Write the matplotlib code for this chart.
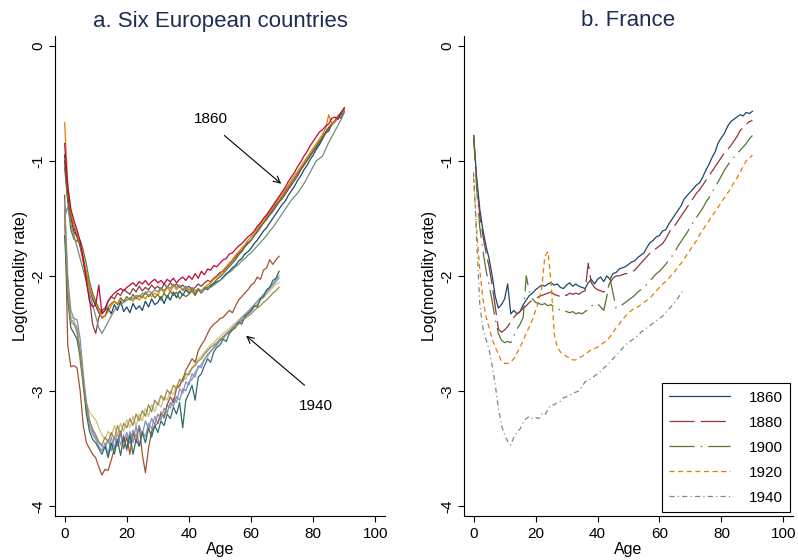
import matplotlib
matplotlib.use('Agg')
import matplotlib.pyplot as plt

plt.rcParams['font.family'] = ['Liberation Sans', 'DejaVu Sans']
plt.rcParams['lines.scale_dashes'] = False

# ---- data: log10 mortality by single year of age ----
ages_1860 = list(range(0, 91))
ages_1940 = list(range(0, 70))
ages_fr = list(range(0, 91))
ages_fr_1940 = list(range(0, 69))

eu1860_c1 = [-0.95, -1.30, -1.48, -1.58, -1.66, -1.74, -1.86, -1.98, -2.10, -2.20,
             -2.26, -2.32, -2.36, -2.35, -2.28, -2.33, -2.25, -2.30, -2.22, -2.31,
             -2.27, -2.32, -2.24, -2.29, -2.26, -2.30, -2.22, -2.27, -2.20, -2.25,
             -2.23, -2.18, -2.24, -2.17, -2.21, -2.14, -2.19, -2.13, -2.17, -2.12,
             -2.15, -2.11, -2.16, -2.12, -2.14, -2.10, -2.12, -2.09, -2.07, -2.05,
             -2.04, -2.01, -1.98, -1.96, -1.93, -1.91, -1.87, -1.85, -1.81, -1.79,
             -1.76, -1.72, -1.69, -1.65, -1.61, -1.58, -1.54, -1.50, -1.46, -1.42,
             -1.38, -1.35, -1.30, -1.26, -1.22, -1.17, -1.13, -1.08, -1.04, -0.99,
             -0.95, -0.90, -0.86, -0.81, -0.76, -0.74, -0.68, -0.66, -0.61, -0.63,
             -0.57]
eu1860_c2 = [-1.00, -1.34, -1.50, -1.62, -1.66, -1.74, -1.88, -2.02, -2.20, -2.42,
             -2.50, -2.36, -2.30, -2.28, -2.22, -2.18, -2.20, -2.15, -2.17, -2.12,
             -2.14, -2.16, -2.11, -2.14, -2.09, -2.13, -2.10, -2.12, -2.08, -2.11,
             -2.09, -2.12, -2.07, -2.10, -2.06, -2.09, -2.07, -2.10, -2.08, -2.11,
             -2.09, -2.12, -2.10, -2.07, -2.09, -2.06, -2.04, -2.05, -2.02, -2.00,
             -1.97, -1.96, -1.93, -1.90, -1.87, -1.84, -1.80, -1.78, -1.74, -1.71,
             -1.69, -1.65, -1.62, -1.58, -1.54, -1.51, -1.47, -1.44, -1.40, -1.36,
             -1.33, -1.29, -1.25, -1.21, -1.17, -1.13, -1.08, -1.04, -1.00, -0.96,
             -0.92, -0.88, -0.84, -0.79, -0.75, -0.71, -0.68, -0.65, -0.61, -0.58,
             -0.55]
eu1860_c3 = [-1.06, -1.35, -1.60, -1.68, -1.70, -1.69, -1.78, -1.90, -2.05, -2.15,
             -2.22, -2.28, -2.32, -2.30, -2.27, -2.24, -2.22, -2.25, -2.19, -2.22,
             -2.18, -2.21, -2.16, -2.20, -2.17, -2.19, -2.14, -2.18, -2.15, -2.19,
             -2.16, -2.21, -2.15, -2.19, -2.13, -2.17, -2.14, -2.20, -2.16, -2.18,
             -2.16, -2.13, -2.17, -2.12, -2.15, -2.11, -2.10, -2.08, -2.06, -2.03,
             -2.01, -1.98, -1.95, -1.92, -1.89, -1.86, -1.82, -1.79, -1.75, -1.72,
             -1.69, -1.65, -1.61, -1.57, -1.54, -1.50, -1.46, -1.42, -1.38, -1.35,
             -1.31, -1.27, -1.23, -1.19, -1.15, -1.11, -1.07, -1.03, -0.99, -0.95,
             -0.91, -0.87, -0.83, -0.80, -0.76, -0.72, -0.69, -0.66, -0.63, -0.60,
             -0.57]
eu1860_c4 = [-0.67, -1.20, -1.45, -1.56, -1.63, -1.72, -1.85, -1.97, -2.10, -2.18,
             -2.24, -2.30, -2.37, -2.35, -2.31, -2.26, -2.22, -2.24, -2.20, -2.23,
             -2.21, -2.19, -2.22, -2.18, -2.21, -2.17, -2.20, -2.16, -2.18, -2.15,
             -2.17, -2.11, -2.15, -2.10, -2.14, -2.08, -2.12, -2.09, -2.13, -2.10,
             -2.14, -2.12, -2.15, -2.11, -2.13, -2.10, -2.08, -2.06, -2.03, -2.01,
             -1.99, -1.95, -1.92, -1.89, -1.86, -1.82, -1.79, -1.76, -1.73, -1.69,
             -1.66, -1.63, -1.59, -1.55, -1.52, -1.48, -1.44, -1.40, -1.36, -1.33,
             -1.29, -1.25, -1.21, -1.17, -1.13, -1.09, -1.05, -1.01, -0.97, -0.93,
             -0.89, -0.85, -0.81, -0.77, -0.72, -0.60, -0.68, -0.66, -0.62, -0.59,
             -0.54]
eu1860_c5 = [-1.49, -1.40, -1.55, -1.65, -1.75, -1.85, -1.95, -2.05, -2.15, -2.25,
             -2.35, -2.45, -2.50, -2.45, -2.40, -2.35, -2.30, -2.27, -2.25, -2.23,
             -2.21, -2.19, -2.20, -2.17, -2.18, -2.15, -2.16, -2.13, -2.15, -2.12,
             -2.14, -2.10, -2.13, -2.09, -2.11, -2.07, -2.10, -2.08, -2.12, -2.09,
             -2.12, -2.10, -2.13, -2.11, -2.14, -2.12, -2.11, -2.10, -2.08, -2.06,
             -2.04, -2.02, -1.99, -1.97, -1.95, -1.92, -1.90, -1.87, -1.85, -1.82,
             -1.80, -1.77, -1.74, -1.71, -1.68, -1.65, -1.61, -1.58, -1.54, -1.50,
             -1.46, -1.42, -1.38, -1.34, -1.31, -1.28, -1.24, -1.20, -1.15, -1.10,
             -1.05, -1.00, -0.98, -0.96, -0.90, -0.84, -0.79, -0.74, -0.69, -0.64,
             -0.58]
eu1860_c6 = [-0.85, -1.22, -1.42, -1.52, -1.60, -1.70, -1.85, -2.05, -2.22, -2.27,
             -2.25, -2.08, -2.33, -2.30, -2.22, -2.18, -2.15, -2.13, -2.11, -2.13,
             -2.10, -2.08, -2.06, -2.09, -2.05, -2.07, -2.04, -2.08, -2.05, -2.03,
             -2.06, -2.04, -2.07, -2.03, -2.05, -2.02, -2.06, -2.03, -2.01, -2.04,
             -2.00, -2.03, -1.98, -2.02, -1.96, -1.99, -1.94, -1.95, -1.91, -1.92,
             -1.89, -1.86, -1.85, -1.81, -1.80, -1.77, -1.74, -1.72, -1.69, -1.66,
             -1.64, -1.61, -1.57, -1.54, -1.50, -1.47, -1.43, -1.39, -1.35, -1.31,
             -1.27, -1.23, -1.18, -1.14, -1.10, -1.05, -1.01, -0.96, -0.92, -0.87,
             -0.83, -0.79, -0.75, -0.73, -0.70, -0.68, -0.63, -0.62, -0.64, -0.58,
             -0.54]

eu1940_c1 = [-1.55, -2.05, -2.38, -2.40, -2.45, -2.65, -2.90, -3.15, -3.30, -3.38,
             -3.42, -3.48, -3.52, -3.45, -3.55, -3.40, -3.50, -3.36, -3.47, -3.38,
             -3.52, -3.35, -3.45, -3.30, -3.48, -3.35, -3.40, -3.28, -3.33, -3.22,
             -3.28, -3.18, -3.24, -3.12, -3.15, -3.06, -3.10, -2.98, -3.02, -2.92,
             -2.95, -2.85, -2.88, -2.78, -2.80, -2.72, -2.70, -2.65, -2.63, -2.60,
             -2.56, -2.55, -2.51, -2.49, -2.46, -2.44, -2.41, -2.38, -2.36, -2.33,
             -2.31, -2.27, -2.25, -2.21, -2.18, -2.15, -2.11, -2.08, -2.05, -2.02]
eu1940_c2 = [-1.40, -2.10, -2.35, -2.38, -2.50, -2.75, -2.95, -3.10, -3.18, -3.22,
             -3.25, -3.32, -3.38, -3.42, -3.35, -3.40, -3.30, -3.38, -3.28, -3.35,
             -3.25, -3.32, -3.22, -3.30, -3.20, -3.26, -3.15, -3.22, -3.12, -3.18,
             -3.10, -3.14, -3.05, -3.08, -3.00, -3.03, -2.95, -2.97, -2.88, -2.90,
             -2.83, -2.80, -2.76, -2.72, -2.70, -2.66, -2.63, -2.60, -2.58, -2.55,
             -2.53, -2.50, -2.48, -2.46, -2.43, -2.41, -2.38, -2.36, -2.33, -2.31,
             -2.29, -2.26, -2.24, -2.21, -2.19, -2.16, -2.13, -2.10, -2.07, -2.06]
eu1940_c3 = [-1.30, -2.60, -2.79, -2.78, -2.80, -3.00, -3.30, -3.45, -3.50, -3.55,
             -3.58, -3.66, -3.73, -3.68, -3.69, -3.60, -3.50, -3.45, -3.35, -3.50,
             -3.40, -3.55, -3.35, -3.45, -3.30, -3.55, -3.71, -3.50, -3.35, -3.30,
             -3.28, -3.20, -3.22, -3.12, -3.05, -3.10, -2.98, -2.95, -2.90, -2.82,
             -2.77, -2.72, -2.75, -2.65, -2.60, -2.56, -2.50, -2.45, -2.42, -2.40,
             -2.37, -2.36, -2.33, -2.30, -2.32, -2.26, -2.21, -2.18, -2.15, -2.12,
             -2.08, -2.06, -2.01, -2.03, -1.95, -1.93, -1.86, -1.90, -1.86, -1.83]
eu1940_c4 = [-1.35, -2.00, -2.30, -2.37, -2.38, -2.55, -2.85, -3.10, -3.25, -3.35,
             -3.40, -3.45, -3.48, -3.50, -3.42, -3.52, -3.40, -3.48, -3.38, -3.44,
             -3.36, -3.46, -3.34, -3.40, -3.30, -3.38, -3.26, -3.33, -3.24, -3.29,
             -3.20, -3.25, -3.15, -3.19, -3.10, -3.13, -3.05, -3.08, -2.98, -3.00,
             -2.92, -2.90, -2.84, -2.80, -2.77, -2.73, -2.68, -2.66, -2.62, -2.59,
             -2.56, -2.53, -2.50, -2.48, -2.45, -2.42, -2.40, -2.36, -2.34, -2.31,
             -2.28, -2.25, -2.22, -2.19, -2.16, -2.13, -2.10, -2.07, -2.03, -2.00]
eu1940_c5 = [-1.65, -2.20, -2.45, -2.50, -2.55, -2.70, -2.95, -3.20, -3.35, -3.42,
             -3.45, -3.50, -3.55, -3.48, -3.58, -3.45, -3.55, -3.42, -3.56, -3.40,
             -3.50, -3.38, -3.55, -3.42, -3.48, -3.36, -3.45, -3.32, -3.40, -3.30,
             -3.36, -3.26, -3.30, -3.20, -3.24, -3.14, -3.20, -3.10, -3.32, -3.08,
             -3.02, -2.95, -3.08, -2.88, -2.85, -2.78, -2.72, -2.75, -2.66, -2.62,
             -2.60, -2.55, -2.57, -2.50, -2.47, -2.45, -2.40, -2.42, -2.35, -2.33,
             -2.30, -2.26, -2.27, -2.20, -2.18, -2.12, -2.10, -2.04, -2.02, -1.96]
eu1940_c6 = [-1.45, -2.15, -2.40, -2.42, -2.48, -2.68, -2.92, -3.12, -3.26, -3.33,
             -3.38, -3.44, -3.47, -3.40, -3.45, -3.36, -3.42, -3.30, -3.38, -3.28,
             -3.32, -3.24, -3.30, -3.20, -3.26, -3.17, -3.22, -3.12, -3.18, -3.08,
             -3.12, -3.04, -3.08, -2.99, -3.03, -2.95, -2.98, -2.90, -2.92, -2.85,
             -2.86, -2.80, -2.78, -2.74, -2.72, -2.68, -2.65, -2.62, -2.60, -2.58,
             -2.55, -2.53, -2.51, -2.48, -2.46, -2.44, -2.42, -2.39, -2.37, -2.35,
             -2.33, -2.30, -2.28, -2.26, -2.23, -2.21, -2.18, -2.15, -2.13, -2.10]

fr_1860 = [-0.78, -1.15, -1.42, -1.60, -1.74, -1.85, -2.00, -2.18, -2.28, -2.25,
           -2.20, -2.07, -2.33, -2.30, -2.33, -2.31, -2.25, -2.21, -2.17, -2.15,
           -2.12, -2.10, -2.08, -2.09, -2.07, -2.06, -2.08, -2.07, -2.10, -2.11,
           -2.08, -2.06, -2.09, -2.07, -2.09, -2.10, -2.11, -2.06, -2.03, -2.07,
           -2.03, -2.01, -2.05, -2.00, -2.03, -1.98, -1.97, -1.94, -1.93, -1.92,
           -1.90, -1.88, -1.87, -1.84, -1.82, -1.80, -1.75, -1.71, -1.69, -1.66,
           -1.65, -1.61, -1.60, -1.55, -1.51, -1.47, -1.43, -1.39, -1.33, -1.30,
           -1.27, -1.24, -1.21, -1.19, -1.14, -1.08, -1.03, -0.97, -0.92, -0.84,
           -0.80, -0.76, -0.70, -0.66, -0.64, -0.62, -0.60, -0.61, -0.58, -0.59,
           -0.57]
fr_1880 = [-0.78, -1.18, -1.48, -1.65, -1.80, -1.92, -2.08, -2.27, -2.46, -2.49,
           -2.47, -2.44, -2.40, -2.36, -2.33, -2.31, -2.28, -2.26, -2.23, -2.21,
           -2.20, -2.18, -2.17, -2.16, -2.15, -2.14, -2.16, -2.17, -2.18, -2.16,
           -2.17, -2.15, -2.16, -2.15, -2.16, -2.14, -2.13, -1.89, -2.06, -2.10,
           -2.12, -2.13, -2.14, -2.12, -2.06, -2.02, -2.00, -2.00, -1.99, -1.98,
           -1.98, -1.97, -1.95, -1.92, -1.89, -1.86, -1.83, -1.80, -1.78, -1.76,
           -1.74, -1.72, -1.68, -1.63, -1.58, -1.56, -1.52, -1.48, -1.44, -1.40,
           -1.36, -1.32, -1.28, -1.25, -1.21, -1.17, -1.13, -1.09, -1.05, -1.01,
           -0.97, -0.93, -0.90, -0.87, -0.83, -0.79, -0.74, -0.71, -0.68, -0.66,
           -0.65]
fr_1900 = [-0.78, -1.25, -1.58, -1.78, -1.95, -2.08, -2.22, -2.38, -2.50, -2.56,
           -2.58, -2.57, -2.58, -2.52, -2.46, -2.42, -2.36, -2.00, -2.14, -2.20,
           -2.23, -2.24, -2.25, -2.24, -2.26, -2.25, -2.27, -2.28, -2.30, -2.29,
           -2.31, -2.32, -2.31, -2.33, -2.32, -2.33, -2.31, -2.29, -2.26, -2.25,
           -2.24, -2.27, -2.30, -2.18, -2.02, -2.15, -2.28, -2.27, -2.25, -2.23,
           -2.21, -2.19, -2.17, -2.14, -2.12, -2.10, -2.07, -2.04, -2.01, -1.98,
           -1.96, -1.93, -1.90, -1.86, -1.83, -1.79, -1.74, -1.70, -1.66, -1.62,
           -1.57, -1.53, -1.49, -1.45, -1.41, -1.36, -1.32, -1.27, -1.23, -1.18,
           -1.13, -1.08, -1.04, -1.00, -0.97, -0.94, -0.91, -0.88, -0.85, -0.81,
           -0.78]
fr_1920 = [-1.15, -1.60, -1.95, -2.20, -2.35, -2.45, -2.55, -2.62, -2.68, -2.74,
           -2.76, -2.76, -2.75, -2.72, -2.67, -2.62, -2.56, -2.50, -2.44, -2.38,
           -2.30, -2.22, -2.10, -1.83, -1.79, -2.05, -2.50, -2.62, -2.66, -2.68,
           -2.70, -2.71, -2.73, -2.73, -2.71, -2.70, -2.68, -2.66, -2.64, -2.63,
           -2.62, -2.60, -2.58, -2.56, -2.53, -2.49, -2.45, -2.42, -2.38, -2.35,
           -2.32, -2.30, -2.28, -2.27, -2.25, -2.23, -2.21, -2.19, -2.16, -2.13,
           -2.10, -2.07, -2.05, -2.02, -1.99, -1.96, -1.92, -1.89, -1.85, -1.81,
           -1.77, -1.73, -1.69, -1.64, -1.60, -1.56, -1.52, -1.48, -1.44, -1.40,
           -1.36, -1.32, -1.28, -1.24, -1.19, -1.15, -1.10, -1.05, -1.00, -0.98,
           -0.95]
fr_1940 = [-1.10, -1.70, -2.25, -2.45, -2.55, -2.64, -2.78, -2.95, -3.15, -3.30,
           -3.38, -3.44, -3.47, -3.40, -3.36, -3.33, -3.27, -3.24, -3.22, -3.24,
           -3.23, -3.24, -3.20, -3.21, -3.16, -3.12, -3.12, -3.10, -3.09, -3.06,
           -3.05, -3.04, -3.02, -3.01, -3.00, -2.96, -2.92, -2.91, -2.89, -2.87,
           -2.85, -2.83, -2.80, -2.78, -2.75, -2.72, -2.69, -2.66, -2.63, -2.60,
           -2.58, -2.56, -2.54, -2.52, -2.49, -2.47, -2.45, -2.43, -2.41, -2.39,
           -2.37, -2.35, -2.32, -2.29, -2.26, -2.23, -2.19, -2.15, -2.12]

colors_1860 = ['#1a476f', '#90353b', '#55752f', '#e37e00', '#6e8e84', '#c10534']
colors_1940 = ['#938dd2', '#cac27e', '#a0522d', '#7b92a8', '#2d6d66', '#9c8847']
fr_years = ['1860', '1880', '1900', '1920', '1940']
fr_colors = ['#1a476f', '#90353b', '#55752f', '#e37e00', '#6e8e84']
fr_dashes = [(None, None), (18, 4.5), (18, 4.5, 1, 4.5), (3.6, 2.6), (3.6, 2.4, 0.8, 2.4)]

title_color = '#1c2c54'
lw = 0.9


def style_axes(ax):
    ax.set_xlim(-3.1, 103.1)
    ax.set_ylim(-4.086, 0.084)
    ax.spines['top'].set_visible(False)
    ax.spines['right'].set_visible(False)
    ax.spines['left'].set_linewidth(0.8)
    ax.spines['bottom'].set_linewidth(0.8)
    ax.set_xticks([0, 20, 40, 60, 80, 100])
    ax.set_yticks([0, -1, -2, -3, -4])
    ax.set_yticklabels(['0', '-1', '-2', '-3', '-4'])
    ax.tick_params(length=4, width=0.8, labelsize=11, pad=4)
    ax.tick_params(axis='y', pad=3)
    for lab in ax.get_yticklabels():
        lab.set_rotation(90)
        lab.set_va('center')
    ax.set_xlabel('Age', fontsize=11.5)
    ax.set_ylabel('Log(mortality rate)', fontsize=11.5)
    ax.xaxis.set_label_coords(0.5, -0.055)
    ax.yaxis.set_label_coords(-0.082, 0.5)


fig = plt.figure(figsize=(7.98, 5.6), dpi=100)
ax1 = fig.add_axes([55 / 798, 44 / 560, 330 / 798, 480 / 560])
ax2 = fig.add_axes([464 / 798, 44 / 560, 329 / 798, 480 / 560])

eu1860 = [eu1860_c1, eu1860_c2, eu1860_c3, eu1860_c4, eu1860_c5, eu1860_c6]
eu1940 = [eu1940_c1, eu1940_c2, eu1940_c3, eu1940_c4, eu1940_c5, eu1940_c6]
for vals, c in zip(eu1860, colors_1860):
    ax1.plot(ages_1860, vals, color=c, lw=lw)
for vals, c in zip(eu1940, colors_1940):
    ax1.plot(ages_1940, vals, color=c, lw=lw)

arrow = dict(arrowstyle='->', color='black', lw=0.8, mutation_scale=12, shrinkA=0, shrinkB=0)
ax1.annotate('', xy=(69.7, -1.20), xytext=(51.4, -0.78), arrowprops=arrow)
ax1.text(47.2, -0.64, '1860', fontsize=11, ha='center', va='center')
ax1.annotate('', xy=(58.4, -2.52), xytext=(77.2, -2.95), arrowprops=arrow)
ax1.text(81.0, -3.13, '1940', fontsize=11, ha='center', va='center')

fr_series = [fr_1860, fr_1880, fr_1900, fr_1920, fr_1940]
for i, vals in enumerate(fr_series):
    x = ages_fr_1940 if i == 4 else ages_fr
    line, = ax2.plot(x, vals, color=fr_colors[i], lw=lw, label=fr_years[i])
    if fr_dashes[i][0] is not None:
        line.set_dashes(fr_dashes[i])

style_axes(ax1)
style_axes(ax2)

leg = ax2.legend(loc='lower right', bbox_to_anchor=(0.992, 0.008), fontsize=11,
                 handlelength=4.0, handletextpad=1.2, labelspacing=0.72,
                 borderpad=0.5, borderaxespad=0, fancybox=False, framealpha=1)
leg.get_frame().set_edgecolor('black')
leg.get_frame().set_linewidth(0.8)

fig.text(220 / 798, 1 - 21 / 560, 'a. Six European countries', fontsize=16,
         color=title_color, ha='center', va='center')
fig.text(628.5 / 798, 1 - 21 / 560, 'b. France', fontsize=16,
         color=title_color, ha='center', va='center')

fig.savefig('out.png', dpi=100)
